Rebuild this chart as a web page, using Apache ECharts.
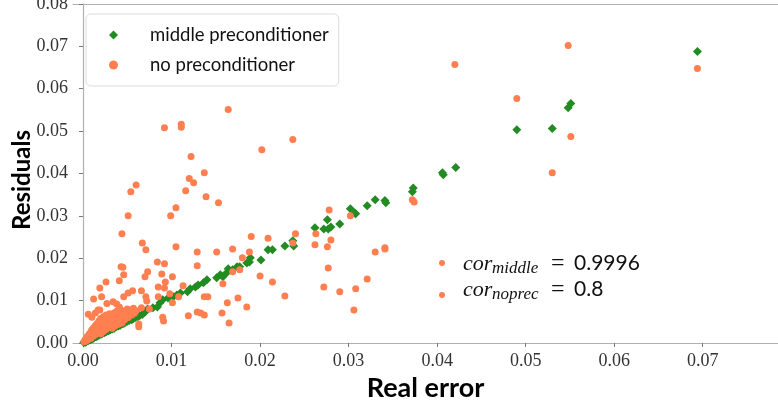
<!DOCTYPE html>
<html>
<head>
<meta charset="utf-8">
<script src="https://cdn.jsdelivr.net/npm/echarts@6/dist/echarts.min.js"></script>
<style>html,body{margin:0;padding:0;background:#fff;}#c{width:778px;height:402px;}</style>
</head>
<body>
<div id="c"></div>
<script>
var xTicks = [0, 0.01, 0.02, 0.03, 0.04, 0.05, 0.06, 0.07];
var yTicks = [0, 0.01, 0.02, 0.03, 0.04, 0.05, 0.06, 0.07, 0.08];
var seriesNames = ['middle preconditioner', 'no preconditioner'];
var axisNames = ['Real error', 'Residuals'];
var corLabels = [['middle', '0.9996'], ['noprec', '0.8']];

var middleData = [
[0.0001,0.0001],[0.0002,0.0003],[0.0003,0.0002],[0.0004,0.0004],[0.0005,0.0005],[0.0006,0.0006],[0.0007,0.0008],[0.0008,0.0007],[0.0009,0.0009],[0.0010,0.0011],[0.0011,0.0010],[0.0012,0.0012],[0.0013,0.0014],[0.0015,0.0015],[0.0016,0.0016],[0.0018,0.0018],[0.0019,0.0020],[0.0021,0.0021],[0.0022,0.0023],[0.0024,0.0024],[0.0026,0.0026],[0.0027,0.0028],[0.0029,0.0029],[0.0031,0.0031],[0.0033,0.0033],[0.0035,0.0034],[0.0036,0.0037],[0.0038,0.0039],[0.0040,0.0040],[0.0042,0.0042],[0.0044,0.0045],[0.0046,0.0046],[0.0048,0.0049],[0.0050,0.0051],[0.0052,0.0053],[0.0055,0.0055],[0.0057,0.0058],[0.0059,0.0060],[0.0062,0.0062],[0.0064,0.0065],[0.0067,0.0067],
[0.0070,0.0073],[0.0073,0.0080],[0.0079,0.0083],[0.0084,0.0085],[0.0087,0.0095],[0.0090,0.0102],[0.0096,0.0106],[0.0102,0.0109],[0.0106,0.0113],[0.0110,0.0118],[0.0118,0.0121],[0.0121,0.0128],[0.0127,0.0132],[0.0130,0.0137],[0.0136,0.0142],[0.0140,0.0149],[0.0151,0.0154],[0.0155,0.0161],[0.0158,0.0156],[0.0162,0.0165],[0.0164,0.0175],[0.0169,0.0173],[0.0174,0.0180],[0.0177,0.0180],[0.0185,0.0189],[0.0188,0.0191],[0.0189,0.0201],[0.0201,0.0196],[0.0209,0.0220],[0.0214,0.0220],[0.0228,0.0229],[0.0237,0.0241],[0.0238,0.0229],[0.0262,0.0272],[0.0272,0.0269],[0.0276,0.0291],[0.0277,0.0269],[0.0280,0.0274],[0.0290,0.0281],[0.0302,0.0317],[0.0307,0.0307],[0.0308,0.0305],[0.0321,0.0324],[0.0330,0.0338],[0.0341,0.0336],[0.0342,0.0331],[0.0373,0.0366],[0.0372,0.0357],[0.0407,0.0397],[0.0406,0.0402],[0.0421,0.0414],[0.0490,0.0503],[0.0530,0.0506],[0.0548,0.0555],[0.0551,0.0565],[0.0694,0.0688]
];

var noprecData = [
[0.0420,0.0657],[0.0548,0.0702],[0.0694,0.0648],[0.0490,0.0577],[0.0551,0.0487],[0.0530,0.0402],[0.0372,0.0338],[0.0374,0.0333],
[0.0164,0.0551],[0.0092,0.0508],[0.0111,0.0516],[0.0111,0.0509],[0.0237,0.0480],[0.0202,0.0456],
[0.0122,0.0440],[0.0137,0.0402],[0.0120,0.0388],[0.0125,0.0378],[0.0116,0.0359],[0.0060,0.0373],[0.0054,0.0357],[0.0139,0.0345],[0.0153,0.0331],[0.0105,0.0319],[0.0099,0.0300],[0.0051,0.0300],[0.0044,0.0258],
[0.0190,0.0251],[0.0209,0.0247],[0.0067,0.0236],[0.0071,0.0220],[0.0105,0.0227],[0.0169,0.0222],[0.0129,0.0215],[0.0151,0.0215],[0.0188,0.0215],[0.0084,0.0191],[0.0092,0.0187],[0.0180,0.0201],[0.0129,0.0182],[0.0043,0.0180],[0.0045,0.0179],[0.0073,0.0168],[0.0089,0.0163],[0.0101,0.0156],[0.0046,0.0161],[0.0041,0.0147],[0.0093,0.0144],[0.0026,0.0144],[0.0019,0.0130],[0.0051,0.0118],[0.0056,0.0123],[0.0066,0.0123],[0.0071,0.0109],[0.0085,0.0132],[0.0085,0.0109],[0.0098,0.0116],[0.0113,0.0135],[0.0108,0.0109],[0.0101,0.0095],[0.0012,0.0104],[0.0021,0.0109],[0.0090,0.0061],[0.0091,0.0052],[0.0119,0.0064],[0.0129,0.0073],[0.0133,0.0071],[0.0137,0.0066],[0.0063,0.0045],[0.0063,0.0038],[0.0044,0.0047],[0.0037,0.0054],[0.0047,0.0071],[0.0054,0.0078],[0.0066,0.0083],[0.0075,0.0080],[0.0158,0.0140],[0.0169,0.0168],[0.0177,0.0173],[0.0163,0.0095],[0.0157,0.0071],[0.0165,0.0047],[0.0175,0.0106],[0.0185,0.0085],[0.0200,0.0158],
[0.0070,0.0156],[0.0092,0.0130],[0.0072,0.0099],[0.0137,0.0109],[0.0141,0.0109],
[0.0278,0.0314],[0.0302,0.0300],[0.0240,0.0258],[0.0263,0.0258],[0.0262,0.0232],[0.0280,0.0243],[0.0276,0.0227],[0.0237,0.0236],[0.0341,0.0225],[0.0341,0.0222],[0.0330,0.0215],[0.0214,0.0144],[0.0277,0.0177],[0.0321,0.0151],[0.0272,0.0132],[0.0290,0.0121],[0.0308,0.0128],[0.0228,0.0111],[0.0306,0.0078],
[0.0001,0.0003],[0.0002,0.0006],[0.0003,0.0004],[0.0003,0.0009],[0.0004,0.0012],[0.0005,0.0007],[0.0005,0.0016],[0.0006,0.0010],[0.0007,0.0021],[0.0007,0.0013],[0.0008,0.0018],[0.0009,0.0026],[0.0009,0.0011],[0.0010,0.0015],[0.0010,0.0031],[0.0011,0.0022],[0.0012,0.0036],[0.0012,0.0017],[0.0013,0.0028],[0.0014,0.0041],[0.0014,0.0020],[0.0015,0.0033],[0.0016,0.0046],[0.0016,0.0025],[0.0017,0.0038],[0.0018,0.0052],[0.0018,0.0029],[0.0019,0.0043],[0.0020,0.0022],[0.0020,0.0058],[0.0021,0.0035],[0.0022,0.0049],[0.0023,0.0062],[0.0023,0.0027],[0.0024,0.0040],[0.0025,0.0055],[0.0026,0.0066],[0.0026,0.0032],[0.0027,0.0046],[0.0028,0.0060],[0.0029,0.0037],[0.0030,0.0069],[0.0030,0.0052],[0.0031,0.0043],[0.0032,0.0064],[0.0033,0.0035],[0.0034,0.0057],[0.0035,0.0071],[0.0035,0.0048],[0.0036,0.0040],[0.0037,0.0062],[0.0038,0.0075],[0.0039,0.0052],[0.0040,0.0044],[0.0041,0.0067],[0.0042,0.0058],[0.0043,0.0078],[0.0044,0.0050],[0.0045,0.0063],[0.0046,0.0072],[0.0047,0.0055],[0.0049,0.0068],[0.0050,0.0080],[0.0051,0.0060],[0.0053,0.0074],[0.0055,0.0066],[0.0057,0.0082],[0.0058,0.0070],[0.0060,0.0076],
[0.0014,0.0071],[0.0046,0.0109],[0.0019,0.0078],[0.0010,0.0061],[0.0006,0.0068],[0.0017,0.0078],[0.0027,0.0093],[0.0034,0.0097],[0.0038,0.0092],[0.0041,0.0085]
];

var GREEN = '#228b22', ORANGE = '#ff7f50', AX = '#b0b0b0';
var tickFont = {fontFamily: 'Liberation Serif', fontSize: 18, color: '#333'};

var chart = echarts.init(document.getElementById('c'), null, {renderer: 'canvas'});
chart.setOption({
  animation: false,
  backgroundColor: '#fff',
  grid: {left: 73, right: 0, top: 4, bottom: 55, containLabel: false, outerBoundsMode: 'none'},
  legend: {
    orient: 'vertical', left: 86, top: 14,
    itemWidth: 9, itemHeight: 9, itemGap: 10,
    padding: [11, 10, 11, 23],
    backgroundColor: '#fff', borderColor: '#dcdcdc', borderWidth: 1, borderRadius: 5,
    textStyle: {fontFamily: 'Lato', fontSize: 18.5, color: '#111', padding: [0, 0, 0, 27], lineHeight: 20},
    data: [{name: seriesNames[0], icon: 'diamond'}, {name: seriesNames[1], icon: 'circle'}]
  },
  xAxis: [{
    type: 'value', min: -0.00113, max: 0.0785,
    axisLine: {show: true, lineStyle: {color: AX, width: 1.2}},
    axisTick: {show: true, length: 4, lineStyle: {color: '#777'}, customValues: xTicks},
    axisLabel: Object.assign({margin: 5, customValues: xTicks, alignMinLabel: 'center', alignMaxLabel: 'center',
      formatter: function (v) { return v.toFixed(2); }}, tickFont),
    splitLine: {show: false},
    name: axisNames[0], nameLocation: 'middle', nameGap: 19,
    nameTextStyle: {fontFamily: 'Lato', fontWeight: 'bold', fontSize: 27, color: '#000'}
  }, {
    type: 'value', position: 'top', min: -0.00113, max: 0.0785,
    axisLine: {show: true, lineStyle: {color: AX, width: 1.2}},
    axisTick: {show: false}, axisLabel: {show: false}, splitLine: {show: false}
  }],
  yAxis: {
    type: 'value', min: -0.00095, max: 0.08,
    axisLine: {show: true, lineStyle: {color: AX, width: 1.2}},
    axisTick: {show: true, length: 4, lineStyle: {color: '#777'}, customValues: yTicks},
    axisLabel: Object.assign({margin: 5, customValues: yTicks, verticalAlignMinLabel: 'middle', verticalAlignMaxLabel: 'middle',
      formatter: function (v) { return v.toFixed(2); }}, tickFont),
    splitLine: {show: false}
  },
  series: [{
    name: seriesNames[0], type: 'scatter', symbol: 'diamond', symbolSize: 9,
    itemStyle: {color: GREEN, opacity: 1}, data: middleData, z: 2
  }, {
    name: seriesNames[1], type: 'scatter', symbol: 'circle', symbolSize: 7,
    itemStyle: {color: ORANGE, opacity: 1}, data: noprecData, z: 3
  }],
  graphic: [
    {type: 'text', x: 22, y: 180, rotation: Math.PI / 2,
      style: {text: axisNames[1], font: 'bold 24px Lato', fill: '#000', align: 'center', verticalAlign: 'middle'}},
    {type: 'circle', shape: {cx: 442, cy: 263, r: 3}, style: {fill: ORANGE}},
    {type: 'circle', shape: {cx: 442, cy: 295, r: 3}, style: {fill: ORANGE}},
    {type: 'text', x: 463, y: 264, style: {text: 'cor', font: 'italic 22px "Liberation Serif"', fill: '#111', verticalAlign: 'middle'}},
    {type: 'text', x: 492, y: 269, style: {text: corLabels[0][0], font: 'italic 17px "Liberation Serif"', fill: '#111', verticalAlign: 'middle'}},
    {type: 'text', x: 551, y: 264, style: {text: '=', font: '24px "Liberation Serif"', fill: '#111', verticalAlign: 'middle'}},
    {type: 'text', x: 574, y: 263, style: {text: corLabels[0][1], font: '21px Lato', fill: '#111', verticalAlign: 'middle'}},
    {type: 'text', x: 463, y: 290, style: {text: 'cor', font: 'italic 22px "Liberation Serif"', fill: '#111', verticalAlign: 'middle'}},
    {type: 'text', x: 492, y: 295, style: {text: corLabels[1][0], font: 'italic 17px "Liberation Serif"', fill: '#111', verticalAlign: 'middle'}},
    {type: 'text', x: 551, y: 290, style: {text: '=', font: '24px "Liberation Serif"', fill: '#111', verticalAlign: 'middle'}},
    {type: 'text', x: 574, y: 289, style: {text: corLabels[1][1], font: '21px Lato', fill: '#111', verticalAlign: 'middle'}}
  ]
});
</script>
</body>
</html>
